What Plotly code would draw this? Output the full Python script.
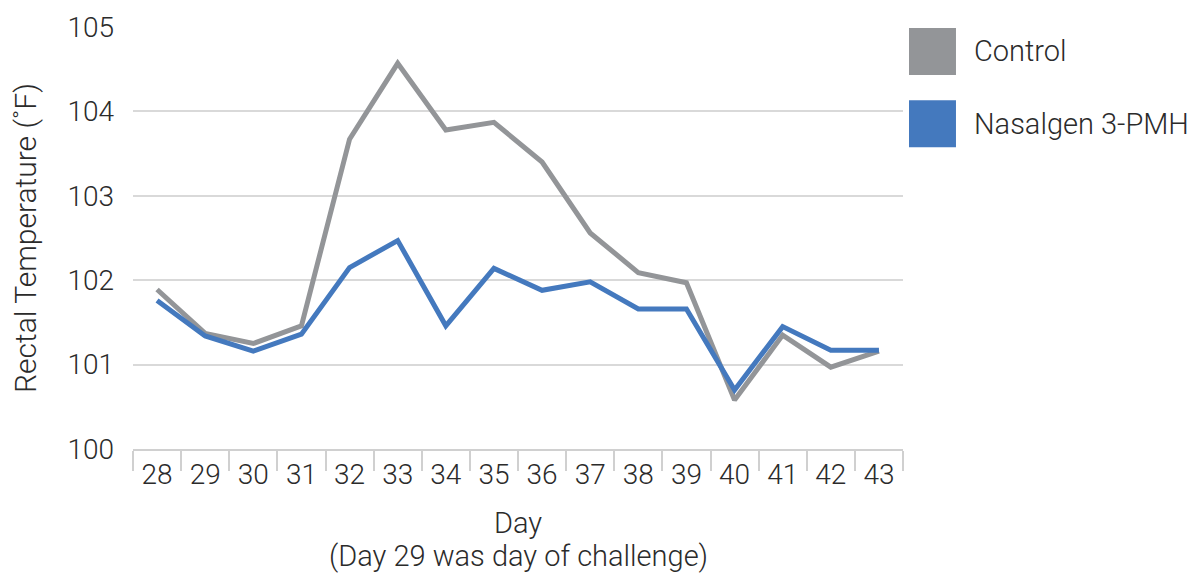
import plotly.graph_objects as go

days = [str(d) for d in range(28, 44)]
control = [101.89, 101.37, 101.25, 101.46, 103.67, 104.57, 103.78, 103.87,
           103.40, 102.56, 102.09, 101.97, 100.58, 101.35, 100.97, 101.16]
nasalgen = [101.76, 101.34, 101.16, 101.36, 102.15, 102.47, 101.46, 102.14,
            101.88, 101.98, 101.66, 101.66, 100.70, 101.45, 101.17, 101.17]
series_names = ['Control', 'Nasalgen 3-PMH']
series_colors = ['#939598', '#4479be']

FONT = 'Roboto'
TEXT = '#2b2b2b'

fig = go.Figure()
for name, vals, col in zip(series_names, [control, nasalgen], series_colors):
    fig.add_trace(go.Scatter(x=days, y=vals, name=name, mode='lines',
                             line=dict(color=col, width=5), showlegend=False))

# legend drawn by hand so the swatches are big squares
legend_y = [0.942, 0.771]
for name, col, yc in zip(series_names, series_colors, legend_y):
    fig.add_shape(type='rect', xref='paper', yref='paper',
                  x0=1.0078, x1=1.0688, y0=yc - 0.0557, y1=yc + 0.0557,
                  fillcolor=col, line=dict(width=0))
    fig.add_annotation(x=1.089, y=yc, xref='paper', yref='paper', text=name,
                       showarrow=False, xanchor='left', yanchor='middle',
                       font=dict(family=FONT, size=29, color=TEXT, weight=300))

# x axis title, two lines placed separately for tighter line spacing
for txt, yp in [('Day', -0.175), ('(Day 29 was day of challenge)', -0.254)]:
    fig.add_annotation(x=0.5, y=yp, xref='paper', yref='paper', text=txt,
                       showarrow=False, xanchor='center', yanchor='middle',
                       font=dict(family=FONT, size=29, color=TEXT, weight=300))

# page body has an 8px margin, so the figure is 8px smaller and shifted
fig.update_layout(
    width=1192, height=567,
    margin=dict(l=125, r=297, t=19, b=126),
    plot_bgcolor='white', paper_bgcolor='white',
    font=dict(family=FONT, color=TEXT),
)
fig.update_xaxes(
    type='category', range=[-0.5, len(days) - 0.5],
    tickson='boundaries', ticks='outside', ticklen=20,
    tickcolor='#d0d0d0', tickwidth=1.5, showline=True, linecolor='#d0d0d0',
    linewidth=1.5, showgrid=False, ticklabelstandoff=0, automargin=False,
    tickfont=dict(family=FONT, size=28, color=TEXT, weight=300),
)
fig.update_yaxes(
    range=[100, 105], dtick=1, showgrid=True, gridcolor='#d9d9d9', gridwidth=1.5,
    zeroline=False, showline=False, ticklabelstandoff=18, automargin=False,
    tickfont=dict(family=FONT, size=28, color=TEXT, weight=300),
    title=dict(text='Rectal Temperature (˚F)', standoff=22,
               font=dict(family=FONT, size=30, color=TEXT, weight=300)),
)

fig.write_html("out.html")
